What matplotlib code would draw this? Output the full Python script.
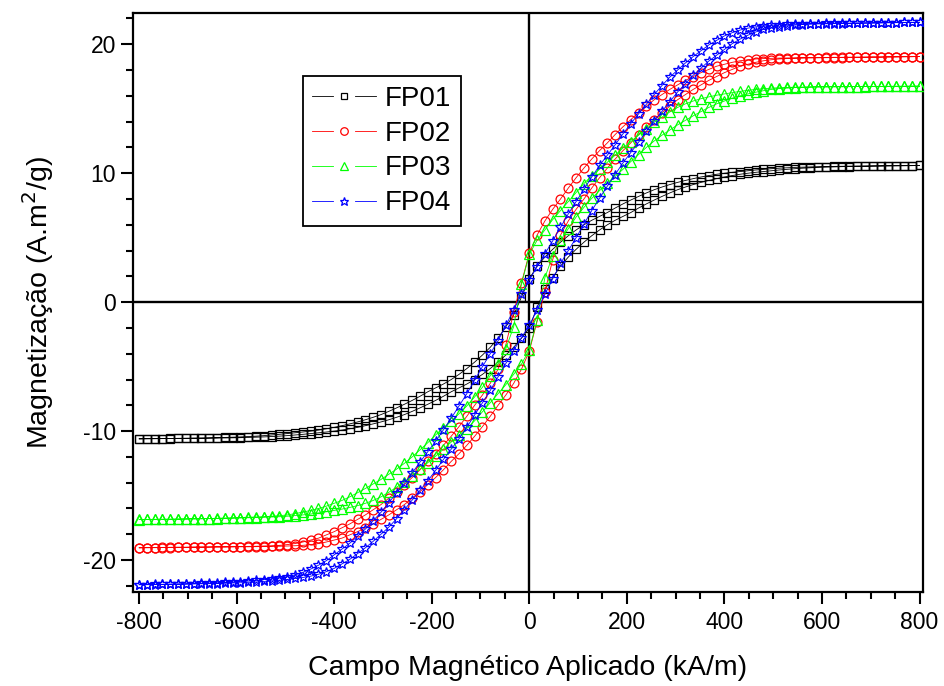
import matplotlib
matplotlib.use("Agg")
import matplotlib.pyplot as plt
from matplotlib.lines import Line2D
from matplotlib.legend_handler import HandlerLine2D
from matplotlib.ticker import MultipleLocator

plt.rcParams['font.family'] = ['Liberation Sans', 'DejaVu Sans']
plt.rcParams['axes.unicode_minus'] = False

# Applied field grid (kA/m)
H = [-800, -784, -768, -752, -736, -720, -704, -688, -672, -656, -640, -624, -608, -592, -576,
     -560, -544, -528, -512, -496, -480, -464, -448, -432, -416, -400, -384, -368, -352, -336,
     -320, -304, -288, -272, -256, -240, -224, -208, -192, -176, -160, -144, -128, -112, -96,
     -80, -64, -48, -32, -16, 0, 16, 32, 48, 64, 80, 96, 112, 128, 144, 160, 176, 192, 208,
     224, 240, 256, 272, 288, 304, 320, 336, 352, 368, 384, 400, 416, 432, 448, 464, 480, 496,
     512, 528, 544, 560, 576, 592, 608, 624, 640, 656, 672, 688, 704, 720, 736, 752, 768, 784, 800]

# Descending branch (field coming down from +800), listed at increasing H
FP01_desc = [-10.6, -10.59, -10.58, -10.58, -10.57, -10.56, -10.55, -10.54, -10.53, -10.52, -10.51, -10.49, -10.47,
             -10.45, -10.42, -10.39, -10.35, -10.3, -10.25, -10.19, -10.13, -10.07, -10.0, -9.92, -9.82, -9.71,
             -9.58, -9.44, -9.29, -9.12, -8.93, -8.72, -8.47, -8.2, -7.92, -7.62, -7.3, -6.95, -6.65, -6.35, -6.0,
             -5.6, -5.15, -4.65, -4.1, -3.5, -2.8, -1.9, -1.0, 0.4,
             1.8, 2.8, 3.5, 4.1, 4.65, 5.15, 5.6, 6.0, 6.35, 6.65, 6.95, 7.3, 7.62, 7.92, 8.2, 8.47, 8.72, 8.93,
             9.12, 9.29, 9.44, 9.58, 9.71, 9.82, 9.92, 10.0, 10.07, 10.13, 10.19, 10.25, 10.3, 10.35, 10.39, 10.42,
             10.45, 10.47, 10.49, 10.51, 10.52, 10.53, 10.54, 10.55, 10.56, 10.56, 10.57, 10.57, 10.58, 10.58,
             10.59, 10.59, 10.6]
FP01_asc = [-10.6, -10.59, -10.59, -10.58, -10.58, -10.57, -10.57, -10.56, -10.56, -10.55, -10.54, -10.53, -10.52,
            -10.51, -10.49, -10.47, -10.45, -10.42, -10.39, -10.35, -10.3, -10.25, -10.19, -10.13, -10.07, -10.0,
            -9.92, -9.82, -9.71, -9.58, -9.44, -9.29, -9.12, -8.93, -8.72, -8.47, -8.2, -7.92, -7.62, -7.3, -6.95,
            -6.65, -6.35, -6.0, -5.6, -5.15, -4.65, -4.1, -3.5, -2.8,
            -2.0, -0.4, 1.0, 1.9, 2.8, 3.5, 4.1, 4.65, 5.15, 5.6, 6.0, 6.35, 6.65, 6.95, 7.3, 7.62, 7.92, 8.2,
            8.47, 8.72, 8.93, 9.12, 9.29, 9.44, 9.58, 9.71, 9.82, 9.92, 10.0, 10.07, 10.13, 10.19, 10.25, 10.3,
            10.35, 10.39, 10.42, 10.45, 10.47, 10.49, 10.51, 10.52, 10.53, 10.54, 10.55, 10.56, 10.57, 10.58,
            10.58, 10.59, 10.6]

FP02_desc = [-19.05, -19.04, -19.03, -19.02, -19.01, -19.0, -19.0, -18.99, -18.99, -18.98, -18.97, -18.97, -18.96,
             -18.95, -18.94, -18.93, -18.91, -18.89, -18.86, -18.8, -18.72, -18.6, -18.45, -18.3, -18.05, -17.8,
             -17.5, -17.2, -16.85, -16.5, -16.1, -15.7, -15.2, -14.7, -14.15, -13.6, -13.0, -12.35, -11.75, -11.1,
             -10.4, -9.65, -8.85, -8.0, -7.2, -6.3, -5.2, -3.3, -0.8, 1.5,
             3.8, 5.2, 6.3, 7.2, 8.0, 8.85, 9.65, 10.4, 11.1, 11.75, 12.35, 13.0, 13.6, 14.15, 14.7, 15.2, 15.7,
             16.1, 16.5, 16.85, 17.2, 17.5, 17.8, 18.05, 18.3, 18.45, 18.6, 18.72, 18.8, 18.86, 18.89, 18.91, 18.93,
             18.94, 18.95, 18.96, 18.97, 18.97, 18.98, 18.99, 18.99, 19.0, 19.0, 19.01, 19.02, 19.02, 19.03, 19.03,
             19.04, 19.04, 19.05]
FP02_asc = [-19.05, -19.04, -19.04, -19.03, -19.03, -19.02, -19.02, -19.01, -19.0, -19.0, -18.99, -18.99, -18.98,
            -18.97, -18.97, -18.96, -18.95, -18.94, -18.93, -18.91, -18.89, -18.86, -18.8, -18.72, -18.6, -18.45,
            -18.3, -18.05, -17.8, -17.5, -17.2, -16.85, -16.5, -16.1, -15.7, -15.2, -14.7, -14.15, -13.6, -13.0,
            -12.35, -11.75, -11.1, -10.4, -9.65, -8.85, -8.0, -7.2, -6.3, -5.2,
            -3.8, -1.5, 0.8, 3.3, 5.2, 6.3, 7.2, 8.0, 8.85, 9.65, 10.4, 11.1, 11.75, 12.35, 13.0, 13.6, 14.15,
            14.7, 15.2, 15.7, 16.1, 16.5, 16.85, 17.2, 17.5, 17.8, 18.05, 18.3, 18.45, 18.6, 18.72, 18.8, 18.86,
            18.89, 18.91, 18.93, 18.94, 18.95, 18.96, 18.97, 18.97, 18.98, 18.99, 18.99, 19.0, 19.0, 19.01, 19.02,
            19.03, 19.04, 19.05]

FP03_desc = [-16.85, -16.85, -16.84, -16.84, -16.83, -16.82, -16.81, -16.8, -16.79, -16.78, -16.76, -16.74, -16.72,
             -16.7, -16.68, -16.66, -16.64, -16.6, -16.56, -16.5, -16.4, -16.28, -16.15, -16.0, -15.82, -15.6,
             -15.38, -15.1, -14.78, -14.45, -14.1, -13.75, -13.35, -12.95, -12.5, -12.0, -11.45, -10.9, -10.3,
             -9.75, -9.25, -8.65, -8.05, -7.35, -6.6, -5.7, -4.8, -3.6, -1.9, 1.4,
             3.7, 4.8, 5.6, 6.4, 7.1, 7.8, 8.5, 9.2, 9.8, 10.3, 10.85, 11.4, 11.95, 12.45, 12.95, 13.45, 13.95,
             14.35, 14.75, 15.1, 15.38, 15.6, 15.78, 15.92, 16.05, 16.15, 16.25, 16.35, 16.43, 16.5, 16.55, 16.6,
             16.63, 16.65, 16.67, 16.68, 16.69, 16.7, 16.7, 16.71, 16.71, 16.72, 16.72, 16.73, 16.73, 16.73, 16.74,
             16.74, 16.74, 16.75, 16.75]
FP03_asc = [-16.86, -16.85, -16.85, -16.84, -16.84, -16.83, -16.82, -16.81, -16.8, -16.79, -16.78, -16.77, -16.76,
            -16.74, -16.72, -16.7, -16.68, -16.66, -16.64, -16.6, -16.55, -16.5, -16.43, -16.35, -16.25, -16.15,
            -16.05, -15.92, -15.78, -15.6, -15.38, -15.1, -14.75, -14.35, -13.95, -13.45, -12.95, -12.45, -11.95,
            -11.4, -10.85, -10.3, -9.8, -9.2, -8.5, -7.8, -7.1, -6.4, -5.6, -4.8,
            -3.7, -1.4, 1.9, 3.6, 4.8, 5.7, 6.6, 7.35, 8.05, 8.65, 9.25, 9.75, 10.3, 10.9, 11.45, 12.0, 12.5,
            12.95, 13.35, 13.75, 14.1, 14.45, 14.78, 15.1, 15.38, 15.6, 15.82, 16.0, 16.15, 16.28, 16.4, 16.5,
            16.56, 16.6, 16.64, 16.66, 16.68, 16.69, 16.7, 16.7, 16.71, 16.71, 16.72, 16.72, 16.73, 16.73, 16.73,
            16.74, 16.74, 16.75, 16.75]

FP04_desc = [-21.9, -21.9, -21.89, -21.88, -21.87, -21.86, -21.85, -21.83, -21.81, -21.79, -21.77, -21.74, -21.71,
             -21.67, -21.63, -21.58, -21.52, -21.46, -21.38, -21.28, -21.15, -20.95, -20.7, -20.4, -20.05, -19.6,
             -19.15, -18.7, -18.15, -17.6, -16.95, -16.3, -15.55, -14.8, -14.05, -13.25, -12.4, -11.6, -10.8, -9.9,
             -9.0, -8.05, -7.1, -6.05, -5.0, -4.0, -3.0, -1.8, -0.6, 0.6,
             1.7, 2.75, 3.75, 4.75, 5.8, 6.85, 7.8, 8.75, 9.7, 10.6, 11.4, 12.2, 13.05, 13.85, 14.6, 15.35, 16.1,
             16.8, 17.45, 18.0, 18.55, 19.05, 19.5, 19.95, 20.3, 20.65, 20.9, 21.1, 21.25, 21.35, 21.42, 21.48,
             21.52, 21.55, 21.57, 21.59, 21.6, 21.61, 21.62, 21.63, 21.64, 21.64, 21.65, 21.66, 21.66, 21.67, 21.68,
             21.68, 21.69, 21.7, 21.7]
FP04_asc = [-21.92, -21.91, -21.9, -21.89, -21.88, -21.87, -21.86, -21.85, -21.84, -21.83, -21.82, -21.8, -21.78,
            -21.76, -21.73, -21.7, -21.66, -21.61, -21.56, -21.5, -21.42, -21.35, -21.25, -21.1, -20.9, -20.65,
            -20.3, -19.95, -19.5, -19.05, -18.55, -18.0, -17.45, -16.8, -16.1, -15.35, -14.6, -13.85, -13.05,
            -12.2, -11.4, -10.6, -9.7, -8.75, -7.8, -6.85, -5.8, -4.75, -3.75, -2.75,
            -1.8, -0.6, 0.6, 1.8, 3.0, 4.0, 5.0, 6.05, 7.1, 8.05, 9.0, 9.9, 10.8, 11.6, 12.4, 13.25, 14.05, 14.8,
            15.55, 16.3, 16.95, 17.6, 18.15, 18.7, 19.15, 19.6, 20.05, 20.4, 20.7, 20.95, 21.15, 21.28, 21.37,
            21.44, 21.49, 21.53, 21.56, 21.58, 21.59, 21.6, 21.61, 21.62, 21.63, 21.64, 21.65, 21.66, 21.67, 21.68,
            21.69, 21.7, 21.7]

names = ["FP01", "FP02", "FP03", "FP04"]
colors = ["#000000", "#ff0000", "#00ff00", "#0000ff"]
markers = ["s", "o", "^", "*"]
msizes = [5.6, 6.4, 6.6, 7.6]
branches = [(FP01_desc, FP01_asc), (FP02_desc, FP02_asc), (FP03_desc, FP03_asc), (FP04_desc, FP04_asc)]

for d, a in branches:
    assert len(d) == len(H) and len(a) == len(H), (len(d), len(a))


class GapHandler(HandlerLine2D):
    def create_artists(self, legend, orig_handle, xdescent, ydescent, width, height, fontsize, trans):
        y = height / 2.0 - ydescent
        x0 = -xdescent
        x1 = width - xdescent
        xm = (x0 + x1) / 2.0
        gap = width * 0.17
        c = orig_handle.get_color()
        lw = orig_handle.get_linewidth()
        l1 = Line2D([x0, xm - gap], [y, y], color=c, lw=lw)
        l2 = Line2D([xm + gap, x1], [y, y], color=c, lw=lw)
        m = Line2D([xm], [y], linestyle="none", marker=orig_handle.get_marker(),
                   markersize=orig_handle.get_markersize() * 0.85, markerfacecolor="none",
                   markeredgecolor=orig_handle.get_markeredgecolor(),
                   markeredgewidth=orig_handle.get_markeredgewidth())
        for art in (l1, l2, m):
            art.set_transform(trans)
        return [l1, l2, m]


fig = plt.figure(figsize=(9.44, 6.86), dpi=100)
ax = fig.add_axes([0.1412, 0.1366, 0.8362, 0.8449])

ax.axhline(0, color="black", lw=1.7, zorder=1)
ax.axvline(0, color="black", lw=1.7, zorder=1)

handles = []
for name, col, mk, ms, (d, a) in zip(names, colors, markers, msizes, branches):
    xs = H[::-1] + H
    ys = d[::-1] + a
    ln, = ax.plot(xs, ys, color=col, lw=0.6, marker=mk, markersize=ms,
                  markerfacecolor="none", markeredgecolor=col, markeredgewidth=0.9,
                  label=name, zorder=3)
    handles.append(ln)

ax.set_xlim(-811.6, 806.3)
ax.set_ylim(-22.5, 22.45)
ax.xaxis.set_major_locator(MultipleLocator(200))
ax.xaxis.set_minor_locator(MultipleLocator(50))
ax.yaxis.set_major_locator(MultipleLocator(10))
ax.yaxis.set_minor_locator(MultipleLocator(2))
ax.tick_params(axis="both", which="major", direction="out", length=8.5, width=1.5,
               labelsize=16.5, top=False, right=False)
ax.tick_params(axis="y", which="major", pad=4)
ax.tick_params(axis="x", which="major", pad=5)
ax.tick_params(axis="both", which="minor", direction="out", length=5, width=1.5, top=False, right=False)
for sp in ax.spines.values():
    sp.set_linewidth(1.6)

ax.set_xlabel("Campo Magnético Aplicado (kA/m)", fontsize=20.5, labelpad=15)
ax.set_ylabel("Magnetização (A.m$^{2}$/g)", fontsize=20.5, labelpad=19)

leg = ax.legend(handles=handles, labels=names, loc="upper left", bbox_to_anchor=(0.2146, 0.8908),
                borderaxespad=0, fontsize=20, frameon=True, fancybox=False, framealpha=1,
                edgecolor="black", handlelength=2.3, handletextpad=0.3, labelspacing=0.32,
                borderpad=0.35, handler_map={Line2D: GapHandler()})
leg.get_frame().set_linewidth(1.3)

fig.savefig("out.png", dpi=100)
